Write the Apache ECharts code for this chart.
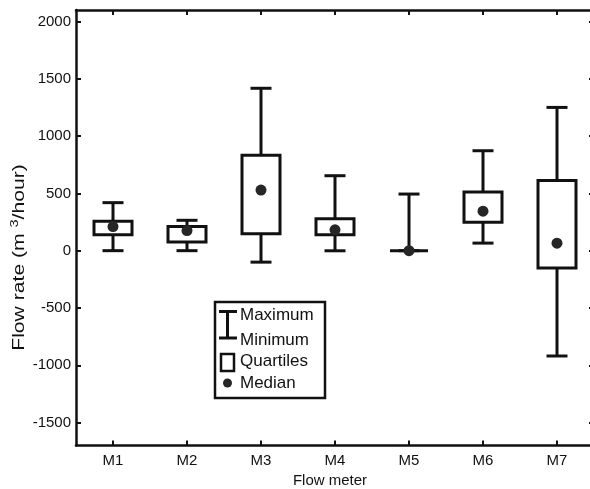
<!DOCTYPE html>
<html>
<head>
<meta charset="utf-8">
<script src="https://cdn.jsdelivr.net/npm/echarts@6/dist/echarts.min.js"></script>
<style>
html,body{margin:0;padding:0;background:#fff;}
#chart{width:590px;height:489px;}
</style>
</head>
<body>
<div id="chart"></div>
<script>
// ---- data ----
const categories = ['M1', 'M2', 'M3', 'M4', 'M5', 'M6', 'M7'];
const minimum  = [0,   0,   -100, -1,  0,   66,  -919];
const quartile1 = [140, 76,  148,  138, 0,   249, -151];
const median   = [210, 175, 529,  182, 0,   345, 65];
const quartile3 = [256, 210, 832,  278, 0,   511, 612];
const maximum  = [419, 265, 1417, 654, 494, 872, 1250];
const yTicks = [-1500, -1000, -500, 0, 500, 1000, 1500, 2000];

const FONT = "'Liberation Sans', Arial, Helvetica, sans-serif";
const INK = '#111';

const seriesData = categories.map((c, i) =>
  [i, minimum[i], quartile1[i], median[i], quartile3[i], maximum[i]]);

const chart = echarts.init(document.getElementById('chart'), null, {renderer: 'canvas'});

function renderItem(params, api) {
  const i = api.value(0);
  const pMin = api.coord([i, api.value(1)]);
  const pQ1 = api.coord([i, api.value(2)]);
  const pMed = api.coord([i, api.value(3)]);
  const pQ3 = api.coord([i, api.value(4)]);
  const pMax = api.coord([i, api.value(5)]);
  const cx = pMin[0];
  const boxW = 38, capW = 21, lw = 3;
  const ls = {stroke: INK, lineWidth: lw, fill: null};
  return {
    type: 'group',
    children: [
      {type: 'line', shape: {x1: cx, y1: pMin[1], x2: cx, y2: pMax[1]}, style: ls},
      {type: 'line', shape: {x1: cx - capW / 2, y1: pMin[1], x2: cx + capW / 2, y2: pMin[1]}, style: ls},
      {type: 'line', shape: {x1: cx - capW / 2, y1: pMax[1], x2: cx + capW / 2, y2: pMax[1]}, style: ls},
      {type: 'rect', shape: {x: cx - boxW / 2, y: pQ3[1], width: boxW, height: pQ1[1] - pQ3[1]},
        style: {stroke: INK, lineWidth: lw, fill: '#fff'}},
      {type: 'circle', shape: {cx: cx, cy: pMed[1], r: 5.5}, style: {fill: '#262626', stroke: null}}
    ]
  };
}

const axisLineStyle = {color: INK, width: 2.5};
const tickStyle = {color: INK, width: 2};
const plain = v => String(v);

const option = {
  animation: false,
  backgroundColor: '#fff',
  grid: {left: 76, top: 10, width: 518, height: 435.5, outerBoundsMode: 'none', containLabel: false},
  xAxis: [
    {
      type: 'category', data: categories, position: 'bottom',
      axisLine: {show: true, onZero: false, lineStyle: axisLineStyle},
      axisTick: {show: true, inside: true, length: 5, alignWithLabel: true, lineStyle: tickStyle},
      axisLabel: {show: true, color: INK, fontSize: 15, fontFamily: FONT, margin: 8},
      splitLine: {show: false}
    },
    {
      type: 'category', data: categories, position: 'top',
      axisLine: {show: true, onZero: false, lineStyle: axisLineStyle},
      axisTick: {show: true, inside: true, length: 5, alignWithLabel: true, lineStyle: tickStyle},
      axisLabel: {show: false},
      splitLine: {show: false}
    }
  ],
  yAxis: [
    {
      type: 'value', min: -1700, max: 2100, position: 'left',
      axisLine: {show: true, onZero: false, lineStyle: axisLineStyle},
      axisTick: {show: true, inside: true, length: 5, lineStyle: tickStyle, customValues: yTicks},
      axisLabel: {show: true, color: INK, fontSize: 15, fontFamily: FONT, margin: 5, customValues: yTicks, formatter: plain},
      splitLine: {show: false}
    },
    {
      type: 'value', min: -1700, max: 2100, position: 'right',
      axisLine: {show: true, onZero: false, lineStyle: axisLineStyle},
      axisTick: {show: true, inside: true, length: 5, lineStyle: tickStyle, customValues: yTicks},
      axisLabel: {show: false},
      splitLine: {show: false}
    }
  ],
  series: [{
    type: 'custom',
    xAxisIndex: 0, yAxisIndex: 0,
    renderItem: renderItem,
    encode: {x: 0, y: [1, 2, 3, 4, 5]},
    data: seriesData,
    z: 5
  }],
  graphic: [
    {
      type: 'text', x: 19.5, y: 257.5, rotation: Math.PI / 2, scaleX: 1.32,
      style: {
        text: 'Flow rate (m {sup|3}/hour)',
        font: '16px ' + FONT, fill: INK, align: 'center', verticalAlign: 'middle',
        rich: {sup: {fontSize: 11, fontFamily: FONT, fill: INK, verticalAlign: 'top', padding: [0, 0, 9, 0]}}
      }
    },
    {
      type: 'text', x: 330, y: 481,
      style: {text: 'Flow meter', font: '15px ' + FONT, fill: INK, align: 'center', verticalAlign: 'middle'}
    },
    // legend box
    {
      type: 'group', z: 10,
      children: [
        {type: 'rect', shape: {x: 215, y: 302, width: 110, height: 96}, style: {fill: '#fff', stroke: INK, lineWidth: 2.5}},
        {type: 'line', shape: {x1: 227.5, y1: 311.5, x2: 227.5, y2: 338}, style: {stroke: INK, lineWidth: 3}},
        {type: 'line', shape: {x1: 219, y1: 311.5, x2: 237, y2: 311.5}, style: {stroke: INK, lineWidth: 3}},
        {type: 'line', shape: {x1: 219, y1: 338, x2: 237, y2: 338}, style: {stroke: INK, lineWidth: 3}},
        {type: 'rect', shape: {x: 221, y: 354, width: 13, height: 17}, style: {fill: '#fff', stroke: INK, lineWidth: 2.5}},
        {type: 'circle', shape: {cx: 227.5, cy: 383, r: 4.5}, style: {fill: '#262626'}},
        {type: 'text', x: 240, y: 315, style: {text: 'Maximum', font: '17px ' + FONT, fill: INK, verticalAlign: 'middle'}},
        {type: 'text', x: 240, y: 340, style: {text: 'Minimum', font: '17px ' + FONT, fill: INK, verticalAlign: 'middle'}},
        {type: 'text', x: 240, y: 361, style: {text: 'Quartiles', font: '17px ' + FONT, fill: INK, verticalAlign: 'middle'}},
        {type: 'text', x: 240, y: 383.5, style: {text: 'Median', font: '17px ' + FONT, fill: INK, verticalAlign: 'middle'}}
      ]
    }
  ]
};
chart.setOption(option);
</script>
</body>
</html>
